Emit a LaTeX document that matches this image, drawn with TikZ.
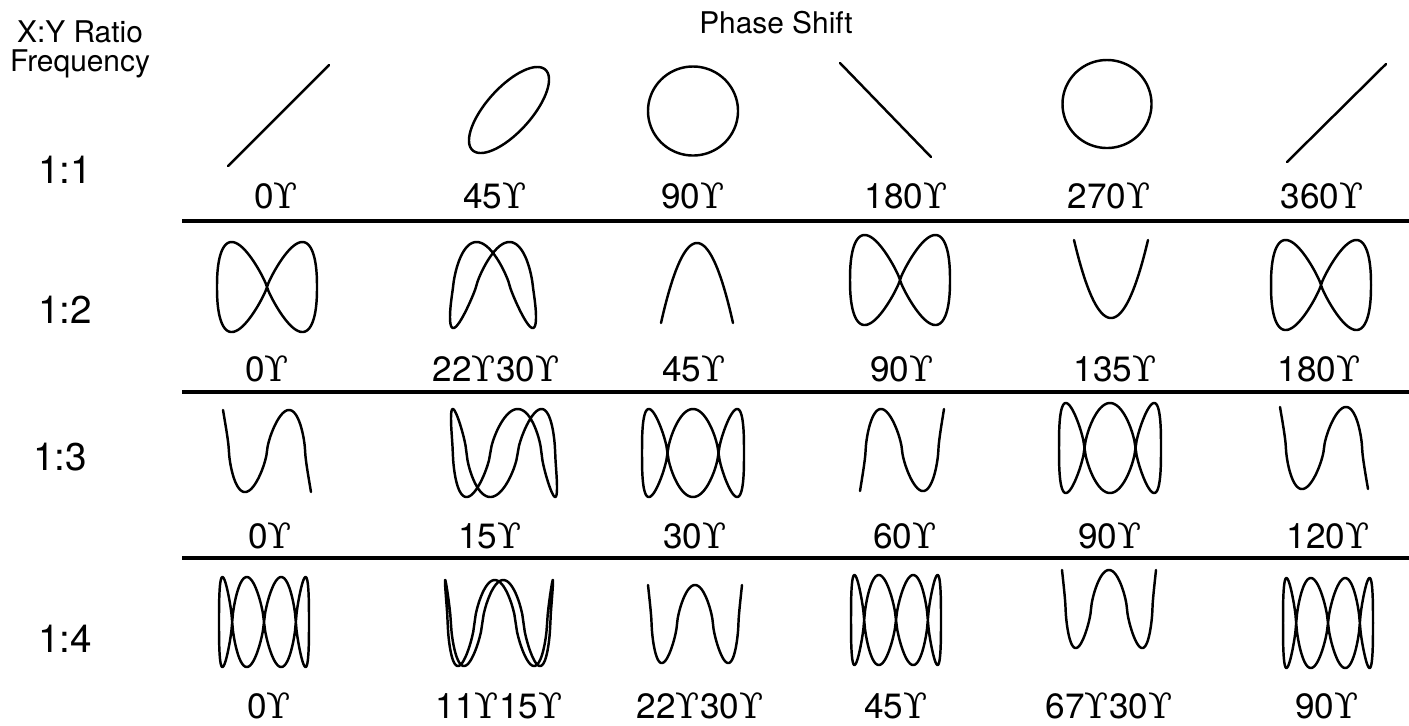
\documentclass[tikz,border=0pt]{standalone}
\usepackage{fontspec}
\setmainfont{TeX Gyre Heros}
\newfontfamily\hookfont{DejaVu Serif}
\usepackage{tikz}
\usetikzlibrary{positioning}

% phase mark as the picture prints it
\newcommand\dg{{\hookfont ϒ}}
% x = cx + a sin t, y = cy + b s|s|^(k-1) with s = sin(n t + p)
\newcommand\lissajous[8]{%
  \draw[curve] plot[domain=#7,samples=241,variable=\t]
    ({#1+#3*sin(\t)},{#2-#4*sin(#5*\t+#6)*pow(abs(sin(#5*\t+#6))+0.00001,#8-1)});}

\begin{document}
\begin{tikzpicture}[
    x=0.02cm,y=-0.02cm,
    curve/.style={line width=1.4pt,line join=round,line cap=round},
    rule/.style={line width=1.8pt},
    head/.style={anchor=base,font=\fontsize{17}{20}\selectfont},
    ratio/.style={anchor=base,font=\fontsize{22}{26}\selectfont},
    deg/.style={anchor=base,font=\fontsize{20}{24}\selectfont}
]
\useasboundingbox (0,0) rectangle (1409,725);

% headings
\node[head] (xy) at (80,42) {X:Y Ratio};
\node[head] (freq) at (80,71) {Frequency};
\node[head] (phase) at (776,33) {Phase Shift};

% ratios
\node[ratio] (r1) at (65,183) {1:1};
\node[ratio] (r2) at (65,323) {1:2};
\node[ratio] (r3) at (60,470) {1:3};
\node[ratio] (r4) at (65,652) {1:4};

% rules between the rows
\coordinate (ra) at (182,221);
\coordinate (rb) at (182,392);
\coordinate (rc) at (182,558);
\draw[rule] (ra) -- ++(1227,0);
\draw[rule] (rb) -- ++(1227,0);
\draw[rule] (rc) -- ++(1227,0);

% row 1:1
\draw[curve] (228,166) -- (329,65);
\lissajous{509}{110}{40}{43}{1}{45}{0:360}{1}
\lissajous{693}{111}{45}{44.5}{1}{90}{0:360}{1}
\draw[curve] (840,63) -- (931,157);
\lissajous{1107}{104}{44.5}{44}{1}{270}{0:360}{1}
\draw[curve] (1287,162) -- (1386,64);
\node[deg] (a1) at (276,208) {0\dg};
\node[deg] (a2) at (495,208) {45\dg};
\node[deg] (a3) at (693,208) {90\dg};
\node[deg] (a4) at (906,208) {180\dg};
\node[deg] (a5) at (1109,208) {270\dg};
\node[deg] (a6) at (1322,208) {360\dg};

% row 1:2
\lissajous{267}{287}{50}{45}{2}{0}{0:360}{0.85}
\lissajous{493}{285}{43}{43}{2}{45}{0:360}{0.85}
\lissajous{697}{283}{36}{40}{2}{90}{-90:90}{1}
\lissajous{900}{280}{50}{45}{2}{180}{0:360}{0.85}
\lissajous{1111}{279}{37}{39}{2}{270}{-90:90}{1}
\lissajous{1321}{285}{50}{45}{2}{360}{0:360}{0.85}
\node[deg] (b1) at (267,381) {0\dg};
\node[deg] (b2) at (496,381) {22\dg30\dg};
\node[deg] (b3) at (694,381) {45\dg};
\node[deg] (b4) at (902,381) {90\dg};
\node[deg] (b5) at (1115,381) {135\dg};
\node[deg] (b6) at (1319,381) {180\dg};

% row 1:3
\lissajous{267}{451}{44}{41}{3}{0}{-90:90}{0.7}
\lissajous{504}{453}{53}{44}{3}{45}{0:360}{0.7}
\lissajous{693}{453}{51}{44}{3}{90}{0:360}{0.7}
\lissajous{902}{450}{42}{41}{3}{180}{-90:90}{0.7}
\lissajous{1110}{448}{51}{45}{3}{270}{0:360}{0.7}
\lissajous{1324}{448}{44}{41}{3}{360}{-90:90}{0.7}
\node[deg] (c1) at (270,548) {0\dg};
\node[deg] (c2) at (490,548) {15\dg};
\node[deg] (c3) at (695,548) {30\dg};
\node[deg] (c4) at (905,548) {60\dg};
\node[deg] (c5) at (1110,548) {90\dg};
\node[deg] (c6) at (1328,548) {120\dg};

% row 1:4
\lissajous{264}{622}{45}{45}{4}{0}{0:360}{0.7}
\lissajous{499}{623}{54}{43}{4}{72}{0:360}{0.7}
\lissajous{695}{624}{47}{39}{4}{90}{-90:90}{0.7}
\lissajous{896}{620}{45}{45}{4}{180}{0:360}{0.7}
\lissajous{1109}{609}{47}{39}{4}{90}{-90:90}{0.7}
\lissajous{1328}{623}{45}{45}{4}{360}{0:360}{0.7}
\node[deg] (d1) at (269,718) {0\dg};
\node[deg] (d2) at (499,718) {11\dg15\dg};
\node[deg] (d3) at (700,718) {22\dg30\dg};
\node[deg] (d4) at (896,718) {45\dg};
\node[deg] (d5) at (1109,718) {67\dg30\dg};
\node[deg] (d6) at (1327,718) {90\dg};
\end{tikzpicture}
\end{document}
